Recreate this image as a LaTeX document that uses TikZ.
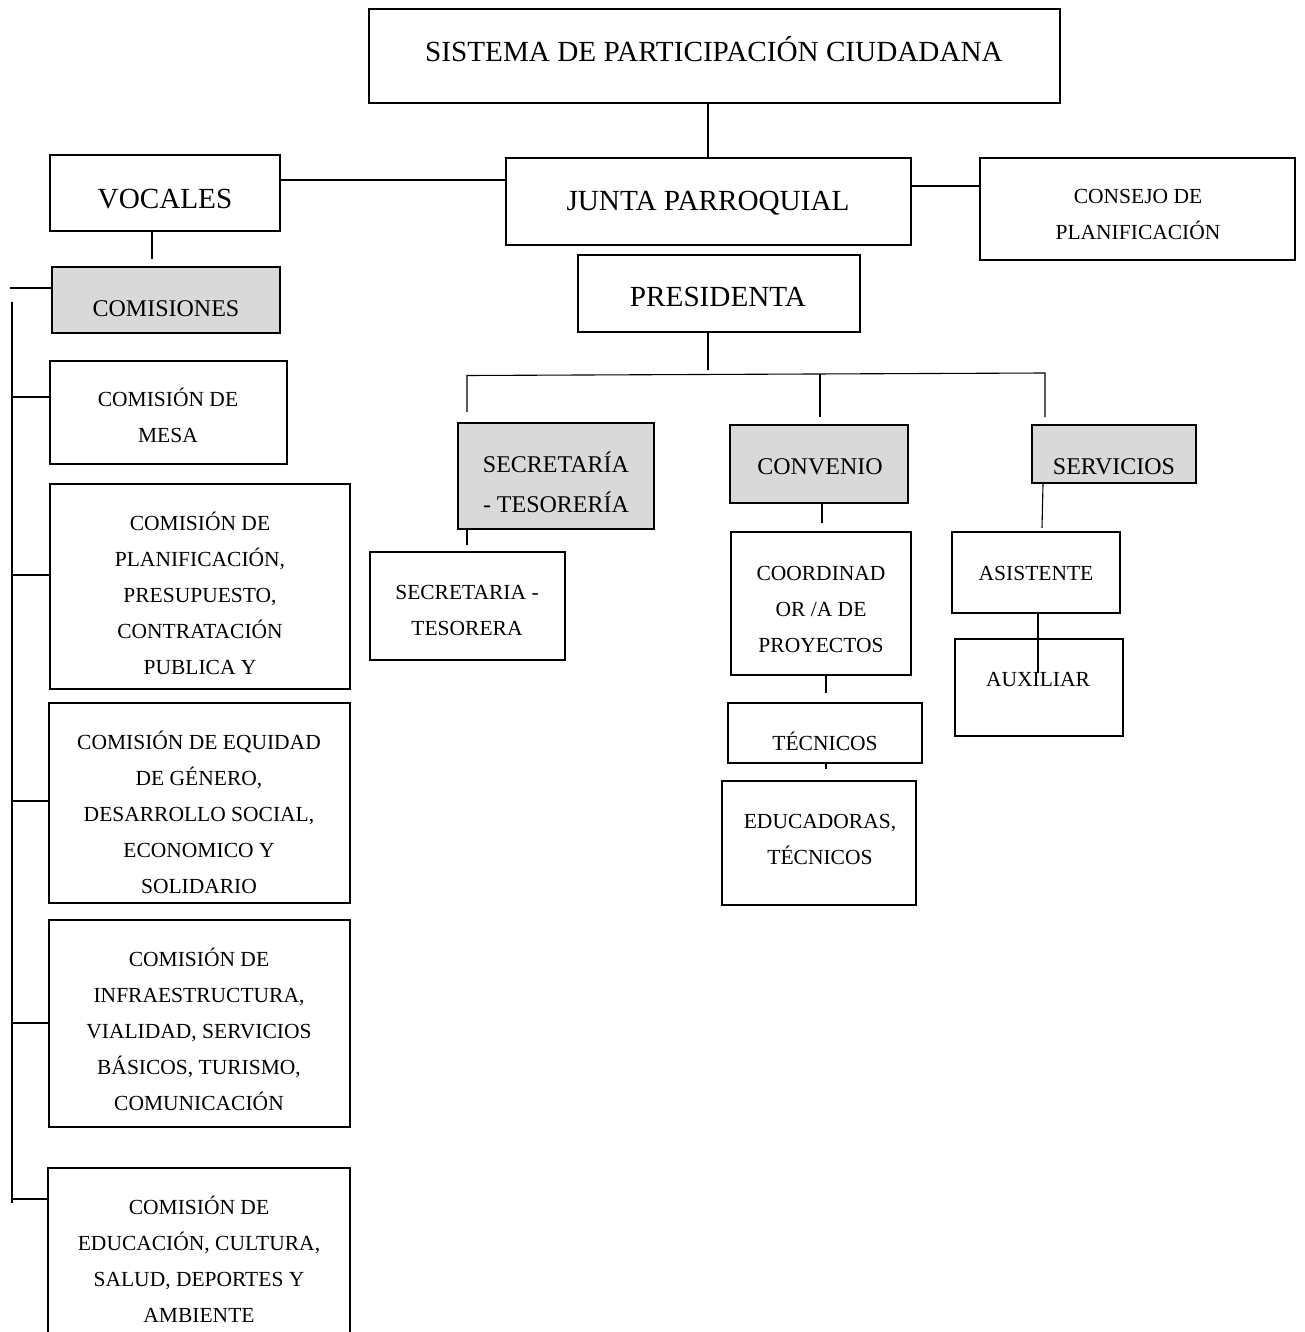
\documentclass[tikz,border=0pt]{standalone}
\usepackage{fontspec}
\setmainfont{Liberation Serif}
\usetikzlibrary{fit}
\definecolor{boxgray}{HTML}{D9D9D9}
\begin{document}
\begin{tikzpicture}[x=1pt,y=-1pt,
  bx/.style={draw, line width=1.8pt, inner sep=0pt},
  gbx/.style={bx, fill=boxgray},
  con/.style={line width=1.1pt},
  lg/.style={font=\fontsize{29.2}{44}\selectfont, align=center, inner sep=0pt},
  md/.style={font=\fontsize{24}{40}\selectfont, align=center, inner sep=0pt},
  sm/.style={font=\fontsize{21.5}{36}\selectfont, align=center, inner sep=0pt}]
\useasboundingbox (0,0) rectangle (1304,1332);
\fill[white] (0,0) rectangle (1304,1332);

% boxes
\node[bx, fit={(369,9) (1060,103)}] (sis) {};
\node[bx, fit={(506,158) (911,245)}] (junta) {};
\node[bx, fit={(50,155) (280,231)}] (voc) {};
\node[bx, fit={(980,158) (1295,260)}] (cons) {};
\node[bx, fit={(578,255) (860,332)}] (pres) {};
\node[gbx, fit={(52,267) (280,333)}] (com) {};
\node[bx, fit={(50,361) (287,464)}] (mesa) {};
\node[bx, fit={(50,484) (350,689)}] (plan) {};
\node[bx, fit={(49,703) (350,903)}] (equi) {};
\node[bx, fit={(49,920) (350,1127)}] (infra) {};
\node[bx, fit={(48,1168) (350,1360)}] (educ) {};
\node[gbx, fit={(458,423) (654,529)}] (sec) {};
\node[gbx, fit={(730,425) (908,503)}] (conv) {};
\node[gbx, fit={(1032,425) (1196,483)}] (serv) {};
\node[bx, fit={(370,552) (565,660)}] (sectes) {};
\node[bx, fit={(731,532) (911,675)}] (coord) {};
\node[bx, fit={(952,532) (1120,613)}] (asis) {};
\node[bx, fit={(955,639) (1123,736)}] (aux) {};
\node[bx, fit={(728,703) (922,763)}] (tec) {};
\node[bx, fit={(722,781) (916,905)}] (edu) {};

% texts
\node[lg] (sis-t) at (714,53) {\strut SISTEMA DE PARTICIPACIÓN CIUDADANA};
\node[lg] (junta-t) at (708,202) {\strut JUNTA PARROQUIAL};
\node[lg] (voc-t) at (165,200) {\strut VOCALES};
\node[sm] (cons-t) at (1138,214.5) {\strut CONSEJO DE\\\strut PLANIFICACIÓN};
\node[lg] (pres-t) at (718,298) {\strut PRESIDENTA};
\node[md] (com-t) at (166,308) {\strut COMISIONES};
\node[sm] (mesa-t) at (168,417.5) {\strut COMISIÓN DE\\\strut MESA};
\node[sm] (plan-t) at (200,595) {\strut COMISIÓN DE\\\strut PLANIFICACIÓN,\\\strut PRESUPUESTO,\\\strut CONTRATACIÓN\\\strut PUBLICA Y};
\node[sm] (equi-t) at (199,814) {\strut COMISIÓN DE EQUIDAD\\\strut DE GÉNERO,\\\strut DESARROLLO SOCIAL,\\\strut ECONOMICO Y\\\strut SOLIDARIO};
\node[sm] (infra-t) at (199,1031) {\strut COMISIÓN DE\\\strut INFRAESTRUCTURA,\\\strut VIALIDAD, SERVICIOS\\\strut BÁSICOS, TURISMO,\\\strut COMUNICACIÓN};
\node[sm] (educ-t) at (199,1261) {\strut COMISIÓN DE\\\strut EDUCACIÓN, CULTURA,\\\strut SALUD, DEPORTES Y\\\strut AMBIENTE};
\node[md] (sec-t) at (556,484) {\strut SECRETARÍA\\\strut - TESORERÍA};
\node[md] (conv-t) at (820,466) {\strut CONVENIO};
\node[md] (serv-t) at (1114,466) {\strut SERVICIOS};
\node[sm] (sectes-t) at (467,610.5) {\strut SECRETARIA -\\\strut TESORERA};
\node[sm] (coord-t) at (821,609) {\strut COORDINAD\\\strut OR /A DE\\\strut PROYECTOS};
\node[sm] (asis-t) at (1036,573) {\strut ASISTENTE};
\node[sm] (aux-t) at (1038,679) {\strut AUXILIAR};
\node[sm] (tec-t) at (825,743) {\strut TÉCNICOS};
\node[sm] (edu-t) at (820,839) {\strut EDUCADORAS,\\\strut TÉCNICOS};

% free ends
\coordinate (vc) at (152,259);
\coordinate (busL) at (10,288);
\coordinate (vtop) at (12,302);
\coordinate (vbot) at (12,1203);
\coordinate (pb) at (708,370);
\coordinate (b1) at (467,375.5);
\coordinate (b3) at (1045,373);
\coordinate (b1e) at (467,412);
\coordinate (b2t) at (820,374);
\coordinate (b2e) at (820,417);
\coordinate (b3e) at (1045,417);
\coordinate (s1) at (467,545);
\coordinate (c1) at (822,523);
\coordinate (v1) at (1042,528);
\coordinate (a1) at (1038,673);
\coordinate (t1) at (826,693);
\coordinate (t2) at (826,769);

% connectors
\draw[con] (junta.north -| 708,0) -- (sis.south -| 708,0);
\draw[con] (voc.east |- 0,180) -- (junta.west |- 0,180);
\draw[con] (junta.east |- 0,186) -- (cons.west |- 0,186);
\draw[con] (voc.south -| vc) -- (vc);
\draw[con] (busL) -- (com.west |- busL);
\draw[con] (vtop) -- (vbot);
\draw[con] (vtop |- 0,397) -- (mesa.west |- 0,397);
\draw[con] (vtop |- 0,575) -- (plan.west |- 0,575);
\draw[con] (vtop |- 0,801) -- (equi.west |- 0,801);
\draw[con] (vtop |- 0,1023) -- (infra.west |- 0,1023);
\draw[con] (vtop |- 0,1199) -- (educ.west |- 0,1199);
\draw[con] (pres.south -| pb) -- (pb);
\draw[con] (b1e) -- (b1) -- (b3) -- (b3e);
\draw[con] (b2t) -- (b2e);
\draw[con] (sec.south -| s1) -- (s1);
\draw[con] (conv.south -| c1) -- (c1);
\draw[con] (serv.south -| 1043,0) -- (v1);
\draw[con] (asis.south -| a1) -- (a1);
\draw[con] (coord.south -| t1) -- (t1);
\draw[con] (tec.south -| t2) -- (t2);
\end{tikzpicture}
\end{document}
